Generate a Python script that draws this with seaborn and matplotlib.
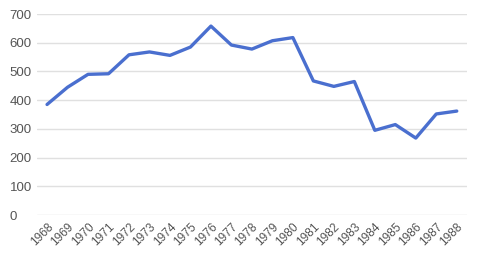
import matplotlib
matplotlib.use("Agg")
import matplotlib.pyplot as plt
import seaborn as sns
import pandas as pd

years = list(range(1968, 1989))
values = [385, 445, 490, 492, 558, 568, 556, 585, 658, 592, 578, 607, 618,
          467, 448, 465, 295, 315, 268, 352, 362]
y_ticks = [0, 100, 200, 300, 400, 500, 600, 700]

sns.set_theme(style="white")
plt.rcParams['font.family'] = ['Arial', 'Liberation Sans', 'DejaVu Sans']

df = pd.DataFrame({"year": years, "value": values})

fig = plt.figure(figsize=(4.78, 2.60), dpi=100)
ax = fig.add_axes([0.077, 0.173, 0.900, 0.773])
sns.lineplot(data=df, x="year", y="value", ax=ax, color="#4a6fcf", linewidth=2.4)

ax.set_ylim(0, 700)
ax.set_xlim(years[0] - 0.5, years[-1] + 0.5)
ax.set_yticks(y_ticks)
ax.set_yticklabels([str(t) for t in y_ticks], fontsize=9.5, color="#555555", ha="left")
ax.set_xticks(years)
ax.set_xticklabels([str(y) for y in years], fontsize=8.6, color="#555555",
                   rotation=45, ha="right", rotation_mode="anchor")
ax.tick_params(axis="both", length=0)
ax.tick_params(axis="y", pad=19.5)
ax.tick_params(axis="x", pad=4.5)
ax.yaxis.grid(True, color="#e0e0e0", linewidth=1)
ax.xaxis.grid(False)
for s in ax.spines.values():
    s.set_visible(False)
ax.set_xlabel("")
ax.set_ylabel("")
ax.set_axisbelow(True)

fig.savefig("out.png", dpi=100)
